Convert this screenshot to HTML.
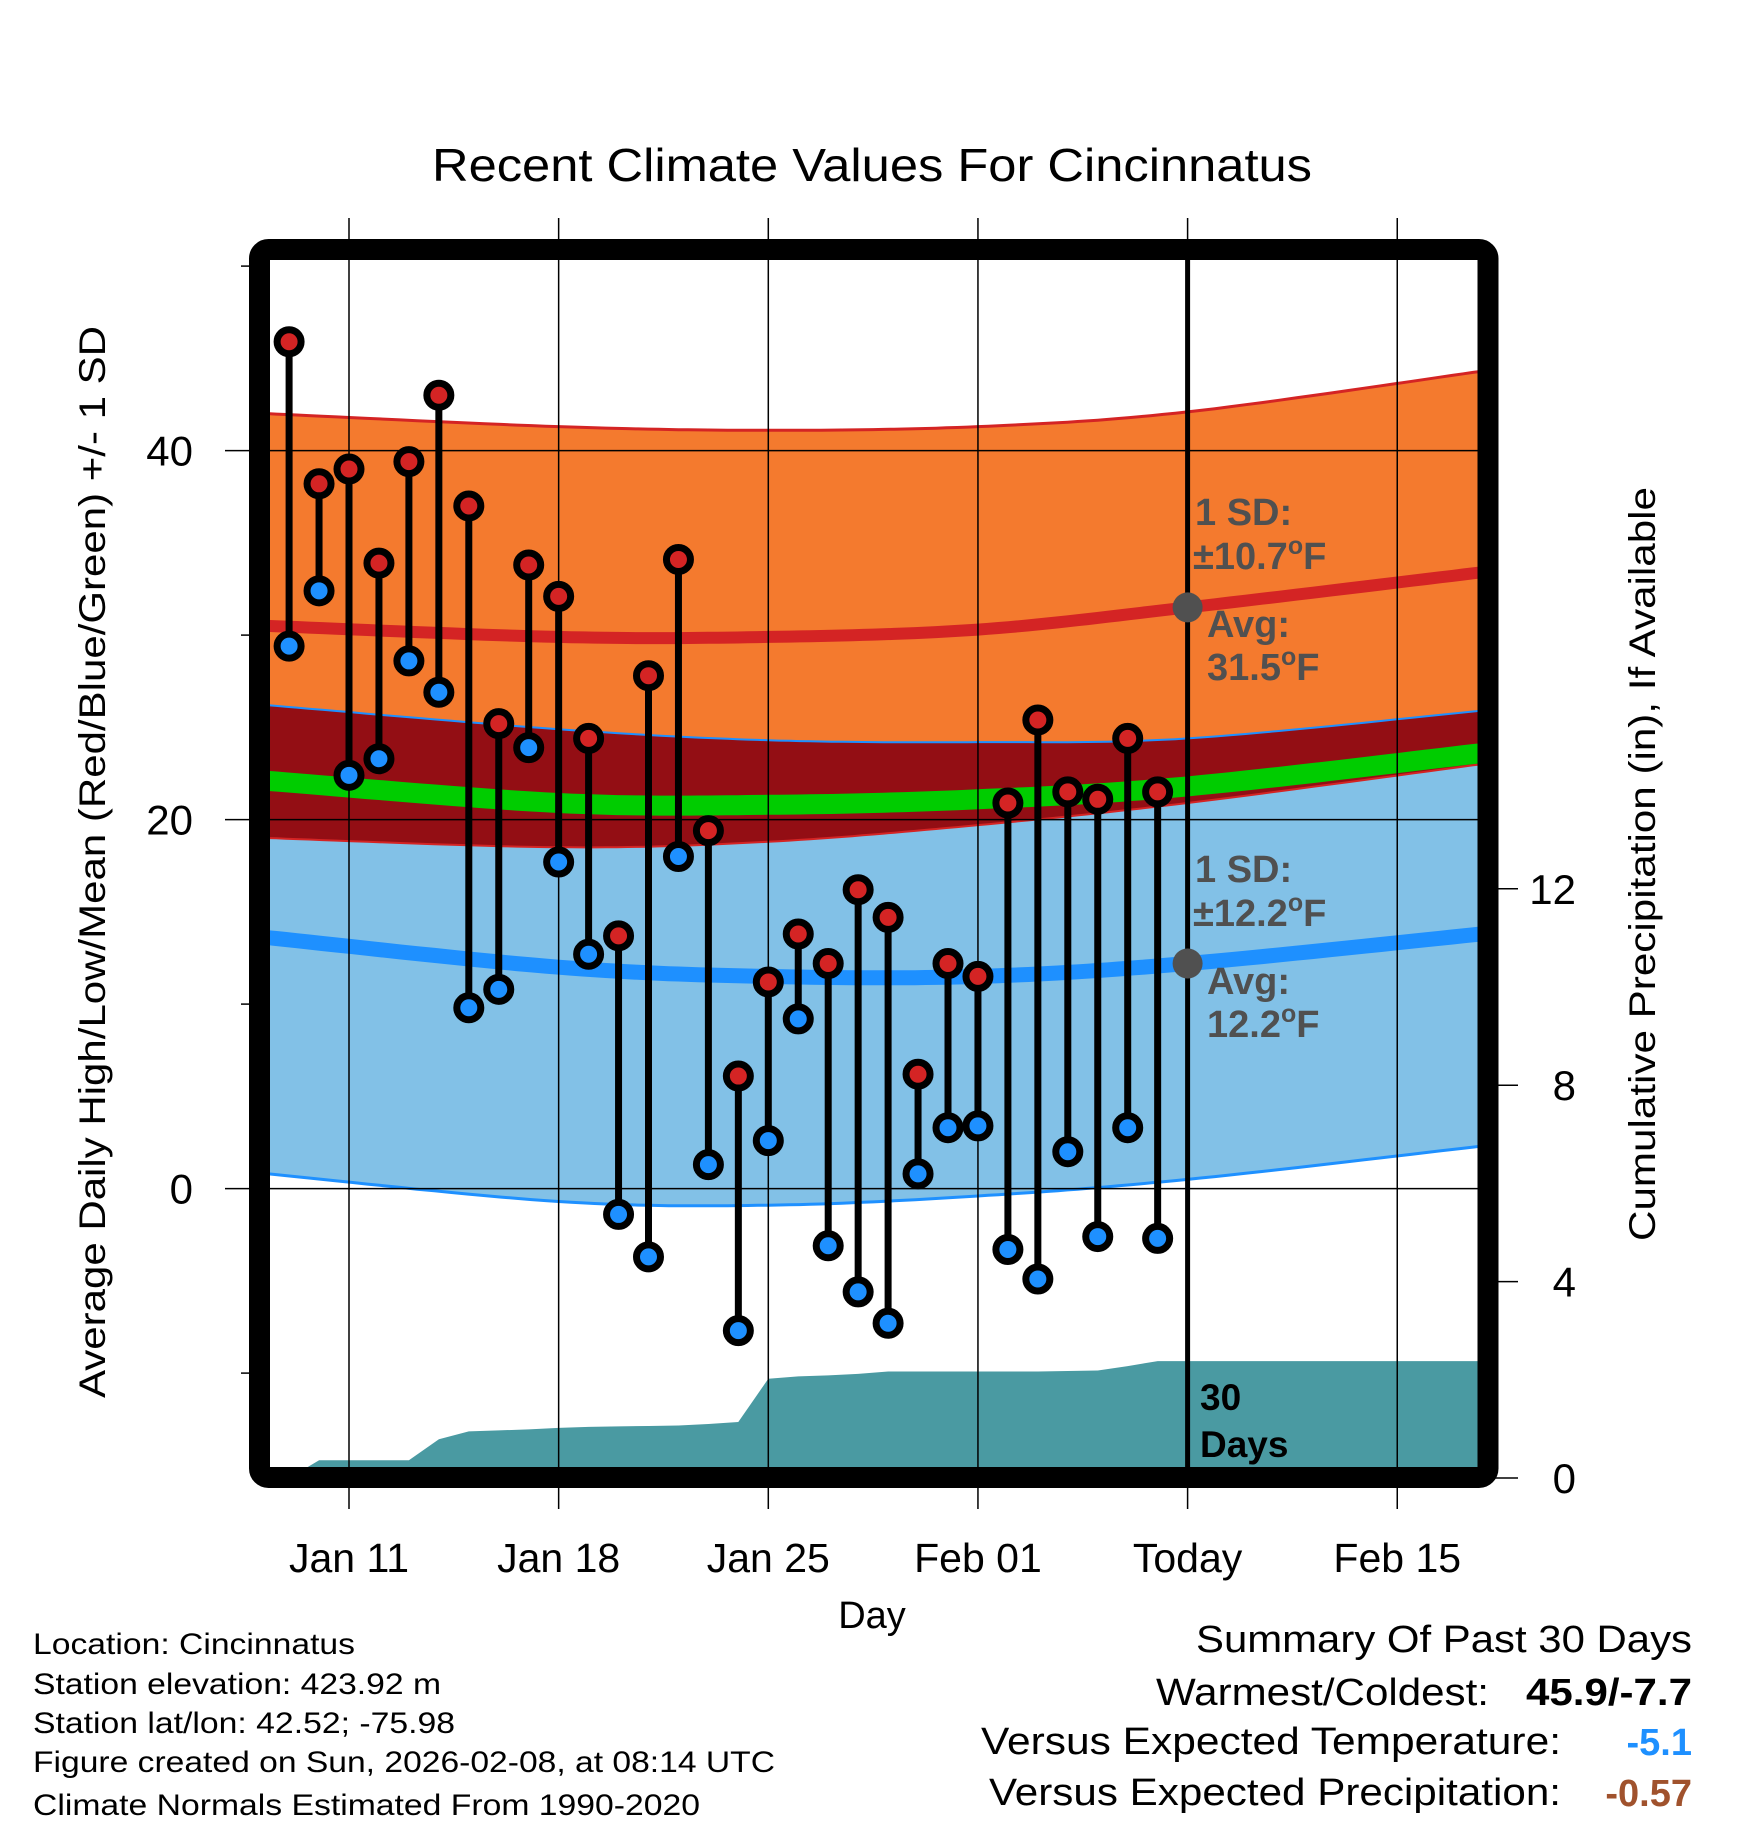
<!DOCTYPE html>
<html><head><meta charset="utf-8"><title>Recent Climate Values For Cincinnatus</title>
<style>html,body{margin:0;padding:0;background:#fff}svg{display:block}text{font-family:"Liberation Sans",Arial,sans-serif}</style>
</head><body>
<svg id="chart" width="1748" height="1828" viewBox="0 0 1748 1828" xmlns="http://www.w3.org/2000/svg">
<defs><clipPath id="plotclip"><rect x="270" y="260" width="1208" height="1208"/></clipPath></defs>
<text x="872" y="181" font-size="46" text-anchor="middle" textLength="880" lengthAdjust="spacingAndGlyphs">Recent Climate Values For Cincinnatus</text>
<g id="plot" clip-path="url(#plotclip)"></g>
<g id="over"></g>
<rect x="259.5" y="249.5" width="1228.5" height="1228" rx="9" fill="none" stroke="#000" stroke-width="21"/>
<text x="872" y="1628" font-size="38" text-anchor="middle">Day</text>
<text transform="translate(105,862) rotate(-90)" font-size="37" text-anchor="middle" textLength="1072" lengthAdjust="spacingAndGlyphs">Average Daily High/Low/Mean (Red/Blue/Green) +/- 1 SD</text>
<text transform="translate(1655,864) rotate(-90)" font-size="37" text-anchor="middle" textLength="754" lengthAdjust="spacingAndGlyphs">Cumulative Precipitation (in), If Available</text>
<g fill="#505050" font-weight="bold" font-size="38">
<text x="1195" y="525">1 SD:</text>
<text x="1193" y="569">±10.7<tspan font-size="25" dy="-15">o</tspan><tspan dy="15">F</tspan></text>
<text x="1207" y="637">Avg:</text>
<text x="1207" y="680">31.5<tspan font-size="25" dy="-15">o</tspan><tspan dy="15">F</tspan></text>
</g>
<g fill="#505050" font-weight="bold" font-size="38">
<text x="1195" y="882">1 SD:</text>
<text x="1193" y="926">±12.2<tspan font-size="25" dy="-15">o</tspan><tspan dy="15">F</tspan></text>
<text x="1207" y="994">Avg:</text>
<text x="1207" y="1037">12.2<tspan font-size="25" dy="-15">o</tspan><tspan dy="15">F</tspan></text>
</g>
<g font-weight="bold" font-size="37">
<text x="1200" y="1410">30</text><text x="1200" y="1457">Days</text>
</g>
<g font-size="30">
<text x="33" y="1654" textLength="322" lengthAdjust="spacingAndGlyphs">Location: Cincinnatus</text>
<text x="33" y="1694" textLength="408" lengthAdjust="spacingAndGlyphs">Station elevation: 423.92 m</text>
<text x="33" y="1733" textLength="422" lengthAdjust="spacingAndGlyphs">Station lat/lon: 42.52; -75.98</text>
<text x="33" y="1772" textLength="742" lengthAdjust="spacingAndGlyphs">Figure created on Sun, 2026-02-08, at 08:14 UTC</text>
<text x="33" y="1815" textLength="667" lengthAdjust="spacingAndGlyphs">Climate Normals Estimated From 1990-2020</text>
</g>
<g font-size="38">
<text x="1692" y="1652" text-anchor="end" textLength="496" lengthAdjust="spacingAndGlyphs">Summary Of Past 30 Days</text>
<text x="1489" y="1705" text-anchor="end" textLength="333" lengthAdjust="spacingAndGlyphs">Warmest/Coldest:</text>
<text x="1692" y="1705" text-anchor="end" font-weight="bold" textLength="166" lengthAdjust="spacingAndGlyphs">45.9/-7.7</text>
<text x="1561" y="1754" text-anchor="end" textLength="580" lengthAdjust="spacingAndGlyphs">Versus Expected Temperature:</text>
<text x="1692" y="1755" text-anchor="end" font-weight="bold" fill="#1E90FF">-5.1</text>
<text x="1561" y="1805" text-anchor="end" textLength="572" lengthAdjust="spacingAndGlyphs">Versus Expected Precipitation:</text>
<text x="1692" y="1806" text-anchor="end" font-weight="bold" fill="#A0522D">-0.57</text>
</g>
</svg>
<script>
// Data (day numbers: Jan d = d, Feb d = 31 + d)
const obsDays = [9,10,11,12,13,14,15,16,17,18,19,20,21,22,23,24,25,26,27,28,29,30,31,32,33,34,35,36,37,38];
const highs = [45.9,38.2,39.0,33.9,39.4,43.0,37.0,25.2,33.8,32.1,24.4,13.7,27.8,34.1,19.4,6.1,11.2,13.8,12.2,16.2,14.7,6.2,12.2,11.5,20.9,25.4,21.5,21.1,24.4,21.5];
const lows = [29.4,32.4,22.4,23.3,28.6,26.9,9.8,10.8,23.9,17.7,12.7,-1.4,-3.7,18.0,1.3,-7.7,2.6,9.2,-3.1,-5.6,-7.3,0.8,3.3,3.4,-3.3,-4.9,2.0,-2.6,3.3,-2.7];
const precipCum = [0,0.36,0.36,0.36,0.36,0.79,0.95,0.97,0.99,1.02,1.04,1.05,1.06,1.07,1.10,1.14,2.02,2.07,2.09,2.12,2.17,2.17,2.17,2.17,2.17,2.17,2.18,2.19,2.28,2.38];
const normDays = [8.3,18,25,32,39,48.8];
const highMean = [30.5,29.9,29.9,30.3,31.5,33.4];
const highUpper = [42.0,41.3,41.1,41.3,42.1,44.3];
const highLower = [26.2,24.9,24.3,24.2,24.4,25.9];
const lowMean = [13.6,12.0,11.5,11.5,12.2,13.8];
const lowUpper = [19.0,18.5,18.8,19.7,20.9,23.0];
const lowLower = [0.8,-0.7,-0.9,-0.4,0.5,2.3];
const avgMean = [22.1,20.9,20.8,21.1,21.8,23.6];
const xTickDays = [11,18,25,32,39,46];
const xTickLabels = ["Jan 11","Jan 18","Jan 25","Feb 01","Today","Feb 15"];
const yTicks = [0,20,40];
const yMinorTicks = [-10,10,30,50];
const y2Ticks = [0,4,8,12];
const todayDay = 39;

const NS = "http://www.w3.org/2000/svg";
const xS = d => 349 + (d - 11) * 29.95;
const yS = t => 1188.6 - t * 18.45;
const pS = v => 1478 - v * 49.1;
const plot = document.getElementById('plot');
const over = document.getElementById('over');
function mk(tag, attrs, parent) {
  const e = document.createElementNS(NS, tag);
  for (const k in attrs) e.setAttribute(k, attrs[k]);
  parent.appendChild(e);
  return e;
}
function curvePts(vals) {
  const pts = [];
  const n = normDays.length;
  for (let i = 0; i < n - 1; i++) {
    const p0 = i > 0 ? i - 1 : i, p3 = i + 2 < n ? i + 2 : i + 1;
    for (let s = 0; s < 20; s++) {
      const t = s / 20;
      const f = (a, b, c, d) => 0.5 * ((2 * b) + (-a + c) * t + (2 * a - 5 * b + 4 * c - d) * t * t + (-a + 3 * b - 3 * c + d) * t * t * t);
      const dx = f(normDays[p0], normDays[i], normDays[i + 1], normDays[p3]);
      const v = f(vals[p0], vals[i], vals[i + 1], vals[p3]);
      pts.push([xS(dx), yS(v)]);
    }
  }
  pts.push([xS(normDays[n - 1]), yS(vals[n - 1])]);
  return pts;
}
const toD = pts => pts.map((p, i) => (i ? 'L' : 'M') + p[0].toFixed(1) + ',' + p[1].toFixed(1)).join(' ');
function band(upper, lower, fill, name) {
  const a = curvePts(upper), b = curvePts(lower).reverse();
  const el = mk('path', {d: toD(a.concat(b)) + ' Z', fill: fill}, plot);
  
  
}
function line(vals, color, w, name) {
  const el = mk('path', {d: toD(curvePts(vals)), fill: 'none', stroke: color, 'stroke-width': w}, plot);
  
  
}
band(highUpper, highLower, '#F47A2E', 'high-sd-band');
band(highLower, lowUpper, '#930E14', 'overlap-band');
band(lowUpper, lowLower, '#82C1E7', 'low-sd-band');
line(highUpper, '#D42424', 3, 'high-upper-edge');
line(highLower, '#1E90FF', 2, 'high-lower-edge');
line(lowUpper, '#D42424', 2, 'low-upper-edge');
line(lowLower, '#1E90FF', 3, 'low-lower-edge');
line(highMean, '#D42424', 12, 'high-mean-line');
line(lowMean, '#1E90FF', 15, 'low-mean-line');
line(avgMean, '#00CC00', 20, 'avg-mean-line');

{
  let d = 'M' + xS(obsDays[0]) + ',' + pS(0);
  obsDays.forEach((day, i) => { d += ' L' + xS(day).toFixed(1) + ',' + pS(precipCum[i]).toFixed(1); });
  d += ' L1480,' + pS(precipCum[precipCum.length - 1]).toFixed(1) + ' L1480,1480 L' + xS(obsDays[0]) + ',1480 Z';
  const el = mk('path', {d: d, fill: '#4A9AA2'}, plot);
  
  
}
yTicks.forEach(t => {
  const el = mk('line', {x1: 225, x2: 1478, y1: yS(t), y2: yS(t), stroke: '#000', 'stroke-width': 1.5}, over);
  
  
  const tx = mk('text', {x: 193, y: yS(t) + 15, 'font-size': 42, 'text-anchor': 'end'}, over);
  tx.textContent = String(t);
  
  
});
yMinorTicks.forEach(t => {
  const el = mk('line', {x1: 241, x2: 250, y1: yS(t), y2: yS(t), stroke: '#000', 'stroke-width': 1.5}, over);
  
  
});
y2Ticks.forEach(v => {
  const el = mk('line', {x1: 1495, x2: 1518, y1: pS(v), y2: pS(v), stroke: '#000', 'stroke-width': 1.5}, over);
  
  
  const tx = mk('text', {x: 1576, y: pS(v) + 15, 'font-size': 42, 'text-anchor': 'end'}, over);
  tx.textContent = String(v);
  
  
});
xTickDays.forEach((d, i) => {
  const el = mk('line', {x1: xS(d), x2: xS(d), y1: 218, y2: 1509, stroke: '#000', 'stroke-width': 1.5}, over);
  
  
  const tx = mk('text', {x: xS(d), y: 1572, 'font-size': 41, 'text-anchor': 'middle'}, over);
  tx.textContent = xTickLabels[i];
  
  
});
{
  const el = mk('line', {x1: xS(todayDay), x2: xS(todayDay), y1: 260, y2: 1468, stroke: '#000', 'stroke-width': 5}, over);
  
  
  const hi = highMean[4], lo = lowMean[4];
  const c1 = mk('circle', {cx: xS(todayDay), cy: yS(hi), r: 15, fill: '#505050'}, over);
  
  
  const c2 = mk('circle', {cx: xS(todayDay), cy: yS(lo), r: 15, fill: '#505050'}, over);
  
  
}
obsDays.forEach((d, i) => {
  const x = xS(d);
  const s = mk('line', {x1: x, x2: x, y1: yS(highs[i]), y2: yS(lows[i]), stroke: '#000', 'stroke-width': 7}, over);
  
  
});
obsDays.forEach((d, i) => {
  const x = xS(d);
  const h = mk('circle', {cx: x, cy: yS(highs[i]), r: 12, fill: '#D42424', stroke: '#000', 'stroke-width': 7}, over);
  
  
  const l = mk('circle', {cx: x, cy: yS(lows[i]), r: 12, fill: '#1E90FF', stroke: '#000', 'stroke-width': 7}, over);
  
  
});
</script>
</body></html>
